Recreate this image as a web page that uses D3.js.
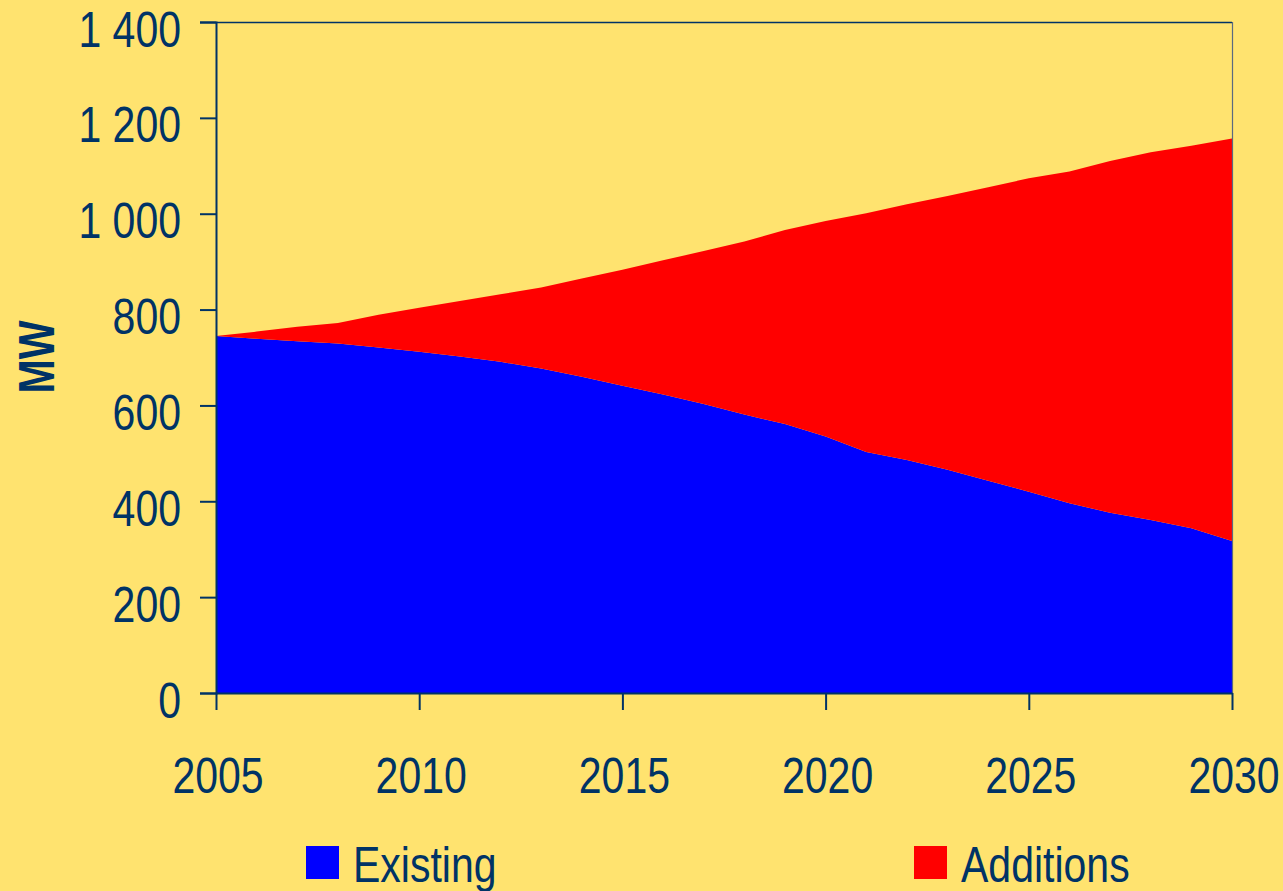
<!DOCTYPE html>
<html>
<head>
<meta charset="utf-8">
<script src="https://cdn.jsdelivr.net/npm/d3@7"></script>
<style>
  html, body { margin: 0; padding: 0; background: #FFE36F; }
  svg { display: block; }
  text { font-family: "Liberation Sans", Arial, sans-serif; fill: #003366; }
</style>
</head>
<body>
<svg id="chart" width="1283" height="891"></svg>
<script>
const years = [2005,2006,2007,2008,2009,2010,2011,2012,2013,2014,2015,2016,2017,2018,2019,2020,2021,2022,2023,2024,2025,2026,2027,2028,2029,2030];
const existing = [745,739,734,729,721,712,702,691,677,660,641,623,603,581,561,535,503,486,466,443,420,396,376,361,344,317];
const additions = [0,15,30,43,68,92,116,141,169,205,242,280,319,361,405,450,498,534,571,612,654,692,734,767,798,840];
const seriesNames = ["Existing", "Additions"];
const seriesColors = ["#0000FF", "#FF0000"];
const yTicks = [0,200,400,600,800,1000,1200,1400];
const xTicks = [2005,2010,2015,2020,2025,2030];
const yLabel = "MW";

const navy = "#003366";
const sx = 0.82; // narrow font emulation
const svg = d3.select("#chart");
const mLeft = 216, mRight = 1232, mTop = 22, mBottom = 693;

const x = d3.scaleLinear().domain([2005, 2030]).range([mLeft, mRight]);
const y = d3.scaleLinear().domain([0, 1400]).range([mBottom, mTop]);

const rows = years.map((yr, i) => ({year: yr, Existing: existing[i], Additions: additions[i]}));
const stacked = d3.stack().keys(seriesNames)(rows);

const area = d3.area()
  .x(d => x(d.data.year))
  .y0(d => y(d[0]))
  .y1(d => y(d[1]));

svg.append("g").selectAll("path")
  .data(stacked)
  .join("path")
  .attr("d", area)
  .attr("fill", (d, i) => seriesColors[i]);

// frame top/right
svg.append("line").attr("x1", mLeft).attr("x2", mRight).attr("y1", mTop + 0.5).attr("y2", mTop + 0.5)
  .attr("stroke", navy).attr("stroke-width", 1.5);
svg.append("line").attr("x1", mRight + 0.5).attr("x2", mRight + 0.5).attr("y1", mTop).attr("y2", mBottom)
  .attr("stroke", "#5a6a80").attr("stroke-width", 1.2);

const fmt = v => d3.format(",")(v).replace(/,/g, " ");

// y axis
const yAxis = d3.axisLeft(y).tickValues(yTicks).tickSize(16).tickPadding(19).tickFormat(fmt);
const gy = svg.append("g").attr("transform", `translate(${mLeft},0)`).call(yAxis);
gy.select(".domain").attr("stroke", navy).attr("stroke-width", 2);
gy.selectAll(".tick line").attr("stroke", navy).attr("stroke-width", 2);
gy.selectAll(".tick text").attr("font-size", 50).attr("fill", navy)
  .attr("font-family", null).attr("dy", null).attr("y", 24)
  .attr("x", -35 / sx).attr("transform", `scale(${sx},1)`);

// x axis
const xAxis = d3.axisBottom(x).tickValues(xTicks).tickSize(17).tickSizeOuter(0).tickPadding(10).tickFormat(d3.format("d"));
const gx = svg.append("g").attr("transform", `translate(0,${mBottom})`).call(xAxis);
gx.select(".domain").attr("stroke", navy).attr("stroke-width", 2);
gx.selectAll(".tick line").attr("stroke", navy).attr("stroke-width", 2);
gx.selectAll(".tick text").attr("font-size", 50).attr("fill", navy)
  .attr("font-family", null).attr("dy", null).attr("y", 100).attr("x", 1.5 / sx)
  .attr("transform", `scale(${sx},1)`);

// y label
svg.append("text")
  .attr("transform", `translate(54,357) rotate(-90) scale(${sx},1)`)
  .attr("text-anchor", "middle")
  .attr("font-size", 50)
  .attr("font-weight", "bold")
  .text(yLabel);

// legend
const legendX = [306, 914];
const lg = svg.append("g");
seriesNames.forEach((name, i) => {
  lg.append("rect").attr("x", legendX[i]).attr("y", 846).attr("width", 33).attr("height", 33)
    .attr("fill", seriesColors[i]);
  lg.append("text")
    .attr("transform", `translate(${legendX[i] + 47},882) scale(${sx},1)`)
    .attr("font-size", 50).text(name);
});
</script>
</body>
</html>
